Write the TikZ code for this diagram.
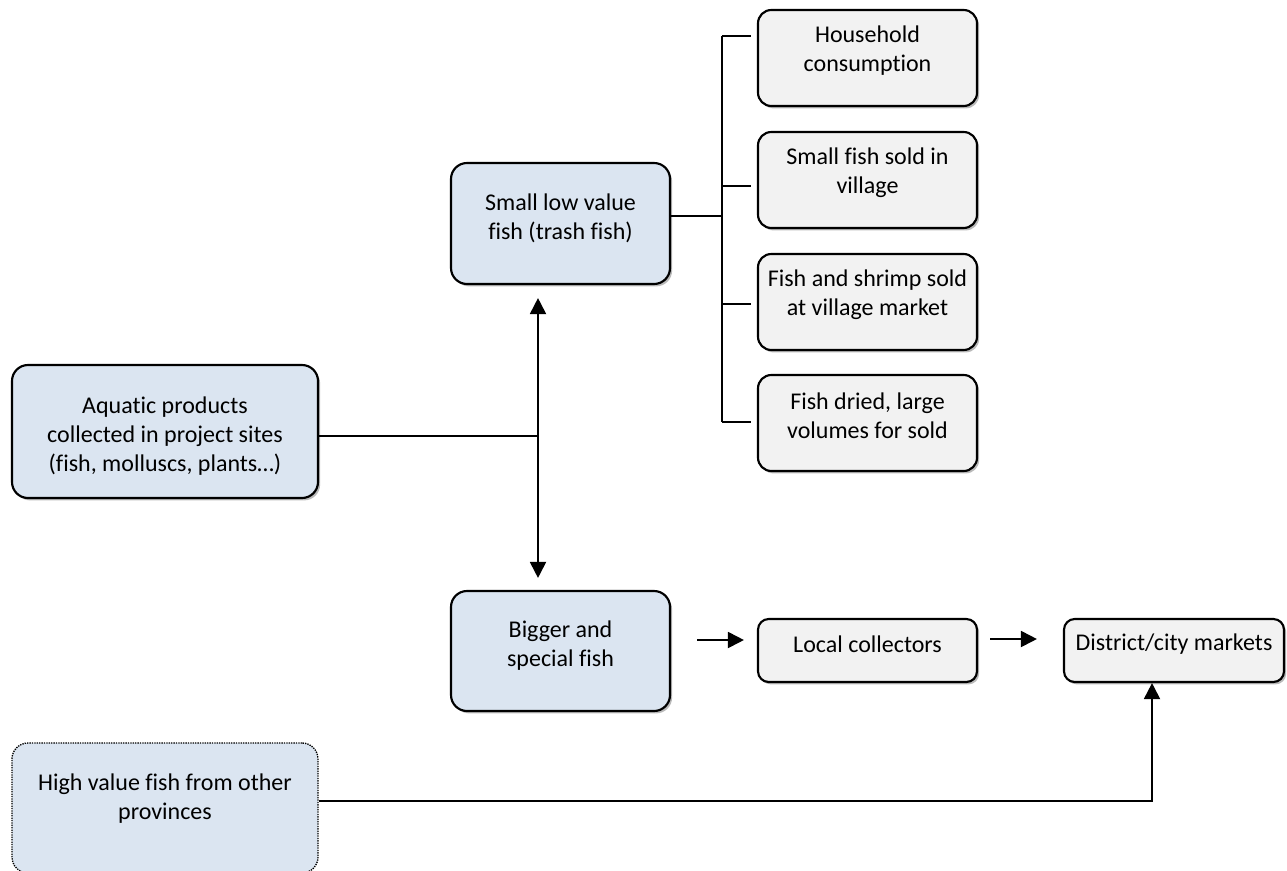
\documentclass[tikz,border=0pt]{standalone}
\usepackage{fontspec}
\setmainfont{Carlito}[Ligatures=NoCommon]
\usetikzlibrary{arrows.meta,shadows}
\definecolor{bluefill}{HTML}{DBE5F1}
\definecolor{grayfill}{HTML}{F2F2F2}
\tikzset{
  boxbase/.style={draw=black, line width=1.6pt, inner sep=0pt,
    drop shadow={shadow xshift=1.6pt, shadow yshift=-1.8pt, fill=black!30, opacity=0.9}},
  bluebox/.style={boxbase, fill=bluefill, rounded corners=12pt},
  graybox/.style={boxbase, fill=grayfill, rounded corners=10pt},
  smallbox/.style={boxbase, fill=grayfill, rounded corners=8pt},
  dotbox/.style={draw=black, line width=1pt, dash pattern=on 1pt off 0.8pt, fill=bluefill, rounded corners=12pt, inner sep=0pt},
  txt/.style={align=center, inner sep=0pt, font=\fontsize{18}{21.75}\selectfont},
  conn/.style={draw=black, line width=1.4pt},
  arr/.style={conn, -{Triangle[length=12pt,width=12pt]}},
  darr/.style={conn, {Triangle[length=12pt,width=12pt]}-{Triangle[length=12pt,width=12pt]}},
}
\begin{document}
\begin{tikzpicture}[x=0.75pt,y=-0.75pt]
\clip (0,0) rectangle (1287,870);
% boxes
\node[bluebox, minimum width=229.5pt, minimum height=99.75pt] (aq) at (165,431.5) {};
\node[dotbox, minimum width=229.5pt, minimum height=97.5pt] (hv) at (165,808) {};
\node[bluebox, minimum width=164.25pt, minimum height=90.75pt] (sm) at (560.5,223.5) {};
\node[bluebox, minimum width=164.25pt, minimum height=90pt] (big) at (560.5,651) {};
\node[graybox, minimum width=164.25pt, minimum height=72pt] (hh) at (867.5,58) {};
\node[graybox, minimum width=164.25pt, minimum height=72pt] (sfs) at (867.5,180) {};
\node[graybox, minimum width=164.25pt, minimum height=72pt] (fss) at (867.5,302) {};
\node[graybox, minimum width=164.25pt, minimum height=72pt] (fd) at (867.5,423) {};
\node[smallbox, minimum width=164.25pt, minimum height=47.25pt] (loc) at (867.5,650.5) {};
\node[smallbox, minimum width=165pt, minimum height=47.25pt] (dis) at (1174,650.5) {};
% texts
\node[txt] (aqt) at (165,436) {Aquatic products\\collected in project sites\\(fish, molluscs, plants…)};
\node[txt] (hvt) at (165,798.5) {High value fish from other\\provinces};
\node[txt] (smt) at (560.5,218) {Small low value\\fish (trash fish)};
\node[txt] (bigt) at (560.5,645.6) {Bigger and\\special fish};
\node[txt] (hht) at (867.5,50.5) {Household\\consumption};
\node[txt] (sfst) at (867.5,173) {Small fish sold in\\village};
\node[txt] (fsst) at (867.5,295) {Fish and shrimp sold\\at village market};
\node[txt] (fdt) at (867.5,416) {Fish dried, large\\volumes for sold};
\node[txt] (loct) at (867.5,644) {Local collectors};
\node[txt] (dist) at (1174,644) {District/city markets};
% connectors
\coordinate (J) at (538,436);
\draw[conn] (J -| aq.east) -- (J);
\draw[darr, shorten <=9.75pt, shorten >=9pt] (J |- sm.south) -- (J |- big.north);
\coordinate (B) at (722,216);
\draw[conn] (B -| sm.east) -- (B);
\coordinate (T1) at (722,36);
\coordinate (T2) at (722,186);
\coordinate (T3) at (722,304);
\coordinate (T4) at (722,422);
\draw[conn] (T1) -- (T4);
\draw[conn, shorten >=4.5pt] (T1) -- (T1 -| hh.west);
\draw[conn, shorten >=4.5pt] (T2) -- (T2 -| sfs.west);
\draw[conn, shorten >=4.5pt] (T3) -- (T3 -| fss.west);
\draw[conn, shorten >=4.5pt] (T4) -- (T4 -| fd.west);
\coordinate (A1) at (700,640);
\draw[arr, shorten <=19.5pt, shorten >=9.75pt] (A1 -| big.east) -- (A1 -| loc.west);
\coordinate (A2) at (1000,639);
\draw[arr, shorten <=9pt, shorten >=19.5pt] (A2 -| loc.east) -- (A2 -| dis.west);
\coordinate (K) at (1152,801);
\draw[arr] (K -| hv.east) -- (K) -- (K |- dis.south);
\end{tikzpicture}
\end{document}
